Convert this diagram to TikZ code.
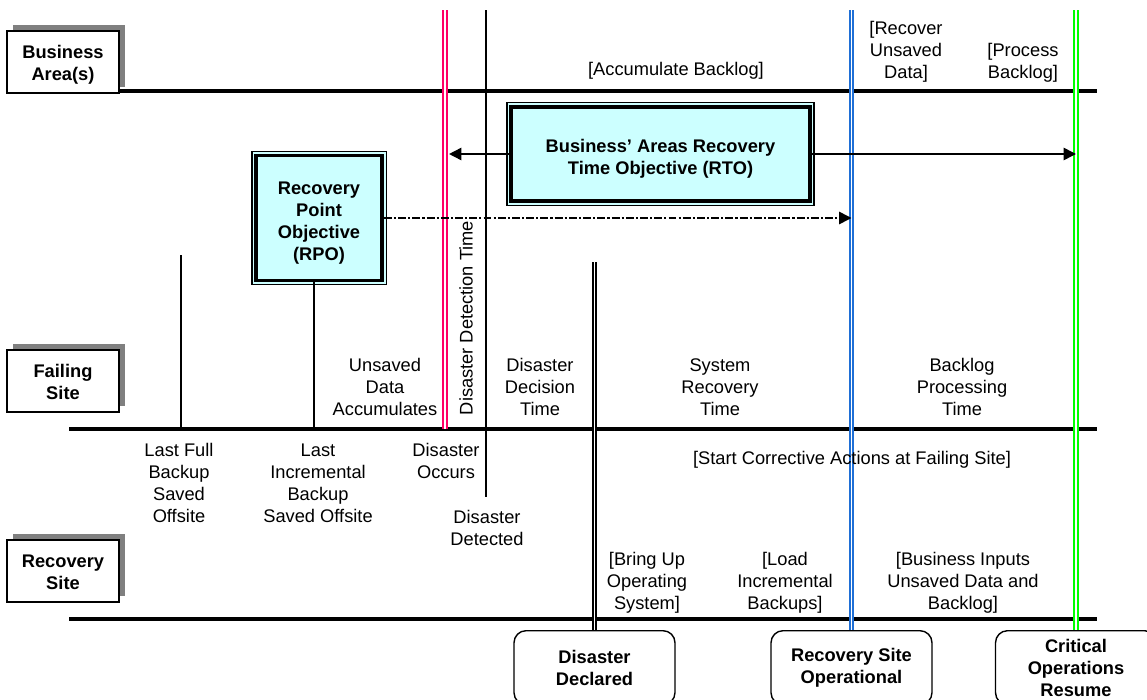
\documentclass[tikz,border=0pt]{standalone}
\usepackage{fontspec}
\setmainfont{Liberation Sans}
\usetikzlibrary{arrows.meta,shadows,fit,backgrounds}

\definecolor{objfill}{HTML}{CCFFFF}
\definecolor{redline}{HTML}{FF0066}
\definecolor{blueline}{HTML}{1F6FD6}
\definecolor{greenline}{HTML}{00FF00}

% taller first line, pushes multi-line box text a little lower
\newcommand{\toppad}[1]{\rule{0pt}{#1}}

\begin{document}
\begin{tikzpicture}[x=0.02cm,y=-0.02cm,
  every node/.style={font=\fontsize{10.4}{12.5}\selectfont, align=center, inner sep=0pt},
  lane/.style={draw, line width=0.6pt, fill=white,
    minimum width=2.24cm, minimum height=1.24cm,
    font=\fontsize{10.4}{12.5}\selectfont\bfseries,
    general shadow={fill=black!50, shadow xshift=0.12cm, shadow yshift=0.12cm}},
  timeline/.style={line width=2.8pt},
  marker/.style={line width=1pt},
  dline/.style={draw=#1, double=white, double distance=0.7pt, line width=1.1pt},
  objbox/.style={draw, line width=2.2pt, fill=objfill,
    font=\fontsize{10.4}{12.5}\selectfont\bfseries},
  objframe/.style={draw, line width=0.6pt, fill=objfill, inner sep=1.2pt},
  event/.style={draw, line width=0.8pt, fill=white, rounded corners=0.24cm,
    minimum width=3.22cm, minimum height=1.48cm, anchor=north,
    font=\fontsize{10.4}{12.5}\selectfont\bfseries},
  span/.style={line width=0.9pt, -{Triangle[length=7pt,width=7pt]}},
  rpoarrow/.style={line width=0.9pt, dash pattern=on 4.5pt off 1.2pt on 1.2pt off 1.2pt,
    -{Triangle[length=7pt,width=7pt]}}
]
\useasboundingbox (0,0) rectangle (1147,700);
\clip (0,0) rectangle (1147,700);

% lane labels
\node[lane] (ba) at (63,62)  {\toppad{10.5pt}Business\\Area(s)};
\node[lane] (fs) at (63,381) {\toppad{8.5pt}Failing\\Site};
\node[lane] (rs) at (63,571) {\toppad{8.5pt}Recovery\\Site};

% lane timelines
\coordinate (bl-w) at (119,91);  \coordinate (bl-e) at (1097,91);
\coordinate (fl-w) at (69,429);  \coordinate (fl-e) at (1097,429);
\coordinate (rl-w) at (69,619);  \coordinate (rl-e) at (1097,619);
\draw[timeline] (bl-w) -- (bl-e);
\draw[timeline] (fl-w) -- (fl-e);
\draw[timeline] (rl-w) -- (rl-e);

% milestone boxes at the bottom
\node[event] (dd)  at (594.5,630) {Disaster\\Declared};
\node[event] (rso) at (851.5,630) {Recovery Site\\Operational};
\node[event] (cor) at (1076,630)  {Critical\\Operations\\Resume};

% objective boxes
\node[objbox, minimum width=5.98cm, minimum height=1.88cm] (rto) at (660.5,154)
  {\toppad{13pt}Business’ Areas Recovery\\Time Objective (RTO)};
\node[objbox, minimum width=2.52cm, minimum height=2.5cm] (rpo) at (319,218)
  {\toppad{13.4pt}Recovery\\Point\\Objective\\(RPO)};
\begin{pgfonlayer}{background}
  \node[objframe, fit=(rto)] (rtoframe) {};
  \node[objframe, fit=(rpo)] (rpoframe) {};
\end{pgfonlayer}

% event markers
\coordinate (redtop)   at (445,10);
\coordinate (dettop)   at (486,10);
\coordinate (detbot)   at (486,497);
\coordinate (bluetop)  at (851.5,10);
\coordinate (greentop) at (1076,10);
\coordinate (decltop)  at (594.5,262);
\coordinate (fulltop)  at (181,255);
\coordinate (incrtop)  at ([xshift=-0.1cm]rpo.south);

\draw[dline=redline] (redtop) -- (redtop |- fl-w);
\draw[marker] (dettop) -- (detbot);
\draw[dline=blueline] (bluetop) -- (rso.north);
\draw[dline=greenline] (greentop) -- (cor.north);
\draw[dline=black] (decltop) -- (dd.north);
\draw[marker] (fulltop) -- (fulltop |- fl-w);
\draw[marker] (incrtop) -- (incrtop |- fl-w);

% objective spans
\draw[span, shorten >=2.3pt] (rto.west) -- (rto.west -| redtop);
\draw[span] (rto.east) -- (rto.east -| greentop);
\draw[rpoarrow] (rpo.east) -- (rpo.east -| bluetop);

% business area activities
\node (acc)  at (676,71)  {[Accumulate Backlog]};
\node (rud)  at (906,52)  {[Recover\\Unsaved\\Data]};
\node (pbl)  at (1023,63) {[Process\\Backlog]};

% intervals
\node (uda)  at (385,387) {Unsaved\\Data\\Accumulates};
\node[rotate=90] (ddt) at (466,318) {Disaster Detection Time};
\node (ddec) at (540,387) {Disaster\\Decision\\Time};
\node (srt)  at (720,387) {System\\Recovery\\Time};
\node (bpt)  at (962,387) {Backlog\\Processing\\Time};

% failing site events
\node (lfb)  at (179,483) {Last Full\\Backup\\Saved\\Offsite};
\node (lib)  at (318,483) {Last\\Incremental\\Backup\\Saved Offsite};
\node (docc) at (446,461) {Disaster\\Occurs};
\node (ddet) at (487,528) {Disaster\\Detected};
\node (sca)  at (852,460) {[Start Corrective Actions at Failing Site]};

% recovery site activities
\node (buos) at (647,583) {[Bring Up\\Operating\\System]};
\node (lib2) at (785,583) {[Load\\Incremental\\Backups]};
\node (biud) at (963,583) {[Business Inputs\\Unsaved Data and\\Backlog]};
\end{tikzpicture}
\end{document}
